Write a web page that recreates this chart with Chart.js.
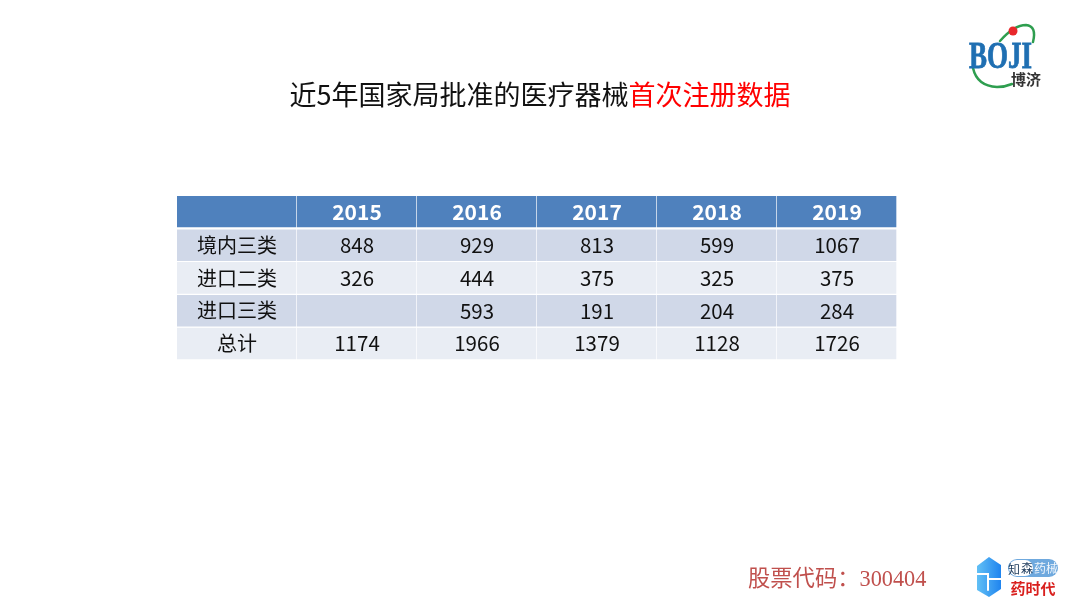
<!DOCTYPE html>
<html>
<head>
<meta charset="utf-8">
<script src="https://cdn.jsdelivr.net/npm/chart.js@4"></script>
<style>
  body { margin: 0; background: #fff; }
  canvas { display: block; }
</style>
</head>
<body>
<canvas id="myChart" width="1080" height="608"></canvas>
<script>
// Datos de la tabla
const years = ['2015', '2016', '2017', '2018', '2019'];
const rowNames = ['境内三类', '进口二类', '进口三类', '总计'];
const domestic3 = [848, 929, 813, 599, 1067];
const import2 = [326, 444, 375, 325, 375];
const import3 = [null, 593, 191, 204, 284];
const totals = [1174, 1966, 1379, 1128, 1726];
const rowValues = [domestic3, import2, import3, totals];

const columns = [''].concat(years);
const cjk = '"Noto Sans CJK SC", "Noto Sans", sans-serif';

function rowDataset(row, color, top, bottom) {
  return {
    data: columns.map(() => [row, row + 1]),
    backgroundColor: color,
    borderColor: '#ffffff',
    borderSkipped: false,
    borderWidth: { top: top, bottom: bottom, left: 0, right: 1 }
  };
}

function drawLogo(ctx) {
  // arcos verdes y punto rojo
  ctx.strokeStyle = '#2e9e4f';
  ctx.lineWidth = 2.5;
  ctx.lineCap = 'round';
  ctx.beginPath();
  ctx.moveTo(1000, 41);
  ctx.quadraticCurveTo(1014, 25, 1026, 25);
  ctx.quadraticCurveTo(1037, 26, 1033, 42);
  ctx.stroke();
  ctx.beginPath();
  ctx.moveTo(973, 68);
  ctx.quadraticCurveTo(977, 86, 997, 87);
  ctx.quadraticCurveTo(1005, 87, 1012, 84);
  ctx.stroke();
  ctx.fillStyle = '#e8282b';
  ctx.beginPath();
  ctx.arc(1013, 31, 4.5, 0, Math.PI * 2);
  ctx.fill();

  ctx.save();
  ctx.fillStyle = '#1f6fb2';
  ctx.strokeStyle = '#1f6fb2';
  ctx.lineWidth = 0.8;
  ctx.font = 'bold 37px "Liberation Serif", serif';
  ctx.textAlign = 'left';
  ctx.textBaseline = 'alphabetic';
  const w = ctx.measureText('BOJI').width;
  ctx.translate(969, 68);
  ctx.scale(63 / w, 1);
  ctx.fillText('BOJI', 0, 0);
  ctx.strokeText('BOJI', 0, 0);
  ctx.restore();

  ctx.fillStyle = '#333333';
  ctx.font = 'bold 15px ' + cjk;
  ctx.textAlign = 'left';
  ctx.textBaseline = 'alphabetic';
  ctx.fillText('博济', 1011, 85);
}

function drawBadge(ctx) {
  const g = ctx.createLinearGradient(977, 0, 1001, 0);
  g.addColorStop(0, '#62c0f5');
  g.addColorStop(1, '#1f84ef');
  ctx.fillStyle = g;
  ctx.beginPath();
  ctx.moveTo(989, 557);
  ctx.lineTo(1001, 565);
  ctx.lineTo(1001, 589);
  ctx.lineTo(989, 597);
  ctx.lineTo(977, 590);
  ctx.lineTo(977, 566);
  ctx.closePath();
  ctx.fill();
  ctx.strokeStyle = '#ffffff';
  ctx.lineWidth = 2;
  ctx.beginPath();
  ctx.moveTo(977, 574);
  ctx.lineTo(988, 574);
  ctx.lineTo(988, 590);
  ctx.moveTo(988, 579);
  ctx.lineTo(1001, 579);
  ctx.stroke();

  // etiqueta superior
  ctx.fillStyle = '#6fa9de';
  ctx.beginPath();
  ctx.roundRect(1008, 559, 50, 18, 9);
  ctx.fill();
  ctx.fillStyle = '#ffffff';
  ctx.beginPath();
  ctx.roundRect(1009, 560, 24, 16, 8);
  ctx.fill();
  ctx.fillStyle = '#1d3b5c';
  ctx.font = '12px ' + cjk;
  ctx.textAlign = 'center';
  ctx.textBaseline = 'middle';
  ctx.fillText('知', 1014, 569);
  ctx.fillText('森', 1027, 568);
  ctx.fillStyle = '#f2f7fc';
  ctx.fillText('药', 1040, 568);
  ctx.fillText('械', 1052, 568);
  ctx.fillStyle = '#d9201e';
  ctx.font = 'bold 15px ' + cjk;
  ctx.fillText('药时代', 1033, 588);
}

const tablePlugin = {
  id: 'tablePlugin',
  afterDatasetsDraw(chart) {
    const ctx = chart.ctx;
    const x = chart.scales.x;
    const y = chart.scales.y;
    ctx.save();
    ctx.textAlign = 'center';
    ctx.textBaseline = 'middle';

    // cabecera
    ctx.fillStyle = '#ffffff';
    ctx.font = 'bold 21px ' + cjk;
    years.forEach((year, i) => {
      ctx.fillText(year, x.getPixelForValue(i + 1), y.getPixelForValue(0.5));
    });

    // filas
    ctx.fillStyle = '#111111';
    rowNames.forEach((name, r) => {
      const py = y.getPixelForValue(r + 1.5);
      ctx.font = '20px ' + cjk;
      ctx.fillText(name, x.getPixelForValue(0), py);
      ctx.font = '20.5px ' + cjk;
      rowValues[r].forEach((value, i) => {
        if (value !== null) ctx.fillText(String(value), x.getPixelForValue(i + 1), py);
      });
    });

    // titulo
    ctx.textAlign = 'left';
    ctx.font = '27px ' + cjk;
    const black = '近5年国家局批准的医疗器械';
    const red = '首次注册数据';
    const blackWidth = ctx.measureText(black).width;
    const start = 540 - (blackWidth + ctx.measureText(red).width) / 2;
    ctx.fillStyle = '#111111';
    ctx.fillText(black, start, 95);
    ctx.fillStyle = '#ff0000';
    ctx.fillText(red, start + blackWidth, 95);

    // pie
    ctx.fillStyle = '#c0504d';
    ctx.font = '22.3px "Liberation Serif", "Noto Sans CJK SC", serif';
    ctx.fillText('股票代码\uFF1A300404', 748, 580);

    drawLogo(ctx);
    drawBadge(ctx);
    ctx.restore();
  }
};

const config = {
  type: 'bar',
  data: {
    labels: columns,
    datasets: [
      rowDataset(0, '#4f81bd', 0, 2),
      rowDataset(1, '#d0d8e8', 1, 1),
      rowDataset(2, '#e9edf4', 0, 1),
      rowDataset(3, '#d0d8e8', 1, 1),
      rowDataset(4, '#e9edf4', 1, 1)
    ]
  },
  options: {
    responsive: false,
    animation: false,
    devicePixelRatio: 1,
    layout: { padding: { left: 177, right: 183, top: 196, bottom: 248 } },
    plugins: { legend: { display: false }, tooltip: { enabled: false } },
    scales: {
      x: { display: false, stacked: true },
      y: { display: false, reverse: true, min: 0, max: 5 }
    },
    datasets: { bar: { categoryPercentage: 1, barPercentage: 1 } }
  },
  plugins: [tablePlugin]
};

var myChart = new Chart(document.getElementById('myChart'), config);
</script>
</body>
</html>
